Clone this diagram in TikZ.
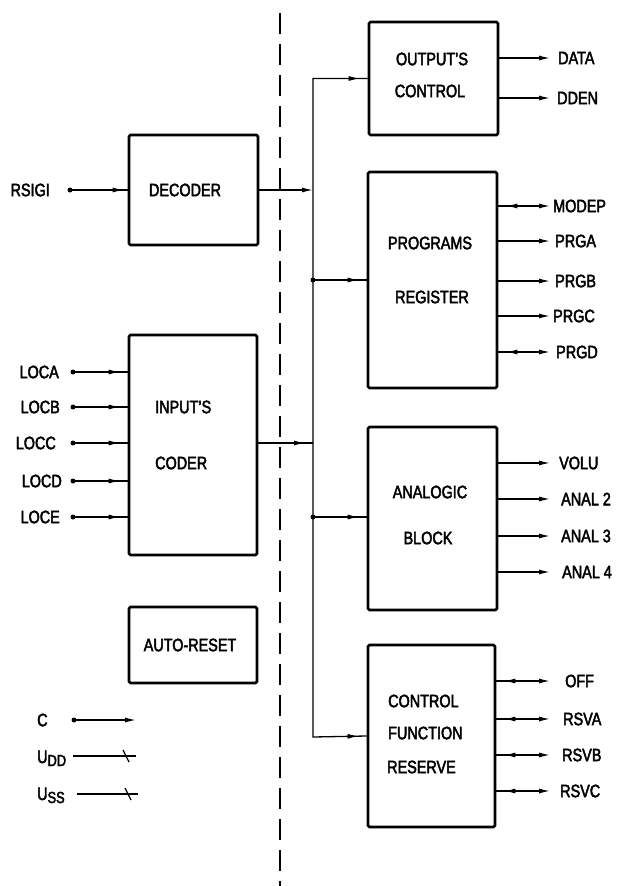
\documentclass[tikz,border=0pt]{standalone}
\usepackage{fontspec}
\setmainfont[FakeStretch=0.8,FakeBold=2.5]{Liberation Sans}
\usetikzlibrary{arrows.meta,decorations.markings}
\tikzset{
  x=1pt, y=-1pt,
  blk/.style={draw, line width=2.6pt, rounded corners=1.5pt, inner sep=0pt},
  txt/.style={font=\fontsize{18}{18}\selectfont, inner sep=0pt},
  wire/.style={line width=1.3pt},
  tipA/.tip={Latex[length=11pt,width=5pt]},
  outw/.style={wire, -tipA},
  inw/.style={wire, postaction={decorate},
    decoration={markings, mark=at position #1 with {\arrow{tipA}}}},
  bidw/.style={wire, -tipA, postaction={decorate},
    decoration={markings, mark=at position 8pt with {\arrowreversed{tipA}}}},
  dotn/.style={circle, fill, inner sep=0pt, minimum size=5pt},
  sepline/.style={line width=1.3pt, dash pattern=on 21pt off 10pt}
}
\begin{document}
\begin{tikzpicture}
\useasboundingbox (0,0) rectangle (632,886);

% boxes
\node[blk, minimum width=129pt, minimum height=113pt] (outc) at (433.5,78.5) {};
\node[blk, minimum width=129pt, minimum height=110pt] (dec) at (193.5,190) {};
\node[blk, minimum width=129pt, minimum height=216pt] (prg) at (432.5,280) {};
\node[blk, minimum width=128pt, minimum height=220pt] (inc) at (193,445) {};
\node[blk, minimum width=129pt, minimum height=183pt] (ana) at (432.5,518.5) {};
\node[blk, minimum width=128pt, minimum height=76pt] (ar) at (193,645) {};
\node[blk, minimum width=127pt, minimum height=182pt] (cfr) at (431.5,736) {};

% box texts
\node[txt] (outcA) at (432,59) {OUTPUT'S};
\node[txt] (outcB) at (430,91) {CONTROL};
\node[txt] (decT) at (185,190) {DECODER};
\node[txt] (prgA) at (430,243) {PROGRAMS};
\node[txt] (prgB) at (432,297) {REGISTER};
\node[txt, anchor=west] (incA) at (155,407) {INPUT'S};
\node[txt, anchor=west] (incB) at (155,463) {CODER};
\node[txt] (anaA) at (430,492) {ANALOGIC};
\node[txt] (anaB) at (428,538) {BLOCK};
\node[txt] (arT) at (190,645) {AUTO-RESET};
\node[txt, anchor=west] (cfrA) at (388,701) {CONTROL};
\node[txt, anchor=west] (cfrB) at (388,733) {FUNCTION};
\node[txt, anchor=west] (cfrC) at (387,767) {RESERVE};

% separation line
\coordinate (sepT) at (280,13);
\coordinate (sepB) at (280,886);
\draw[sepline] (sepT) -- (sepB);

% bus
\coordinate (bt) at (313,78.5);
\coordinate (bb) at (313,737);
\draw[wire, line join=miter, postaction={decorate},
  decoration={markings,
    mark=at position 8pt with {\arrowreversed{tipA}},
    mark=at position -8pt with {\arrow{tipA}}}]
  (outc.west) -- (bt) -- (bb) -- (cfr.west);
\node[dotn] (j1) at (313,280) {};
\node[dotn] (j2) at (313,517) {};
\draw[inw=-8pt] (j1.center) -- (prg.west |- j1);
\draw[inw=-8pt] (j2.center) -- (ana.west |- j2);
\draw[outw] (dec.east) -- (dec.east -| bt);
\coordinate (cj) at (313,443);
\draw[inw=-8pt] (inc.east |- cj) -- (cj);

% RSIGI input
\node[txt, anchor=east] (rsigi) at (50,190) {RSIGI};
\node[dotn] (drs) at (70,190) {};
\draw[inw=-4pt] (drs.center) -- (dec.west |- drs);

% LOC inputs
\foreach \n/\t/\y/\x in {la/LOCA/372/59, lb/LOCB/407/60, lc/LOCC/443/56, ld/LOCD/481/62, le/LOCE/517/60}{
  \node[txt, anchor=east] (\n) at (\x,\y) {\t};
  \node[dotn] (d\n) at (73,\y) {};
  \draw[inw=-8pt] (d\n.center) -- (inc.west |- d\n);
}

% outputs (one way)
\foreach \b/\n/\t/\y/\x in {outc/data/DATA/58/558, outc/dden/DDEN/98/557,
   prg/prga/PRGA/241/555, prg/prgb/PRGB/281/555, prg/prgc/PRGC/316/553,
   ana/volu/VOLU/463/559, ana/an2/ANAL 2/499/561, ana/an3/ANAL 3/536/561, ana/an4/ANAL 4/572/562}{
  \node[txt, anchor=west] (\n) at (\x,\y) {\t};
  \pgfmathsetmacro\gap{\x-550}
  \draw[outw] (\b.east |- \n.west) -- ([xshift=-\gap pt]\n.west);
}

% outputs (bidirectional)
\foreach \b/\n/\t/\y/\x in {prg/modep/MODEP/206/553, prg/prgd/PRGD/352/556,
   cfr/off/OFF/681/565, cfr/rsva/RSVA/719/563, cfr/rsvb/RSVB/755/562, cfr/rsvc/RSVC/791/560}{
  \node[txt, anchor=west] (\n) at (\x,\y) {\t};
  \pgfmathsetmacro\gap{\x-550}
  \draw[bidw] (\b.east |- \n.west) -- ([xshift=-\gap pt]\n.west);
}

% legend
\node[txt, anchor=west] (lc) at (37,720) {C};
\node[dotn] (dC) at (74,720) {};
\coordinate (eC) at (136,720);
\draw[outw] (dC.center) -- (eC);

\node[txt, anchor=base west] (udd) at (37,763) {U\raisebox{-3pt}{\fontsize{16}{16}\selectfont DD}};
\coordinate (u1) at (73,756);
\coordinate (u2) at (136,756);
\coordinate (ut) at (126,756);
\draw[wire] (u1) -- (u2);
\draw[wire] ([shift={(-3,-6)}]ut) -- ([shift={(3,6)}]ut);

\node[txt, anchor=base west] (uss) at (37,800) {U\raisebox{-3pt}{\fontsize{16}{16}\selectfont SS}};
\coordinate (s1) at (77,794);
\coordinate (s2) at (138,794);
\coordinate (st) at (128,794);
\draw[wire] (s1) -- (s2);
\draw[wire] ([shift={(-3,-6)}]st) -- ([shift={(3,6)}]st);
\end{tikzpicture}
\end{document}
